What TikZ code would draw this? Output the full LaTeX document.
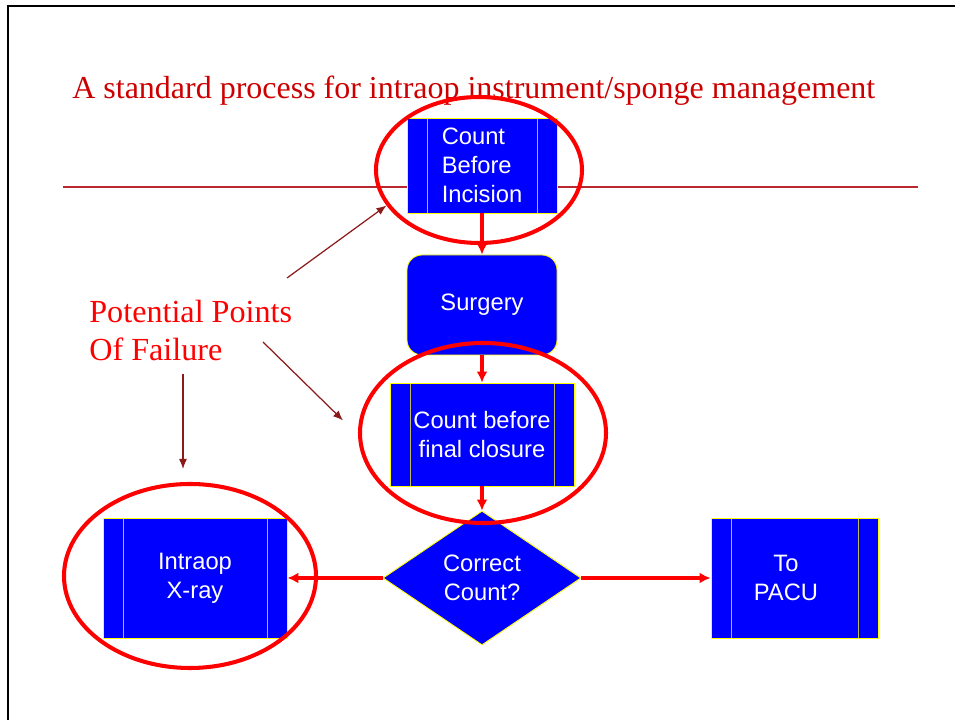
\documentclass[tikz,border=0pt]{standalone}
\usepackage{fontspec}
\setmainfont{Liberation Serif}
\setsansfont{Liberation Sans}
\usetikzlibrary{shapes.geometric, arrows.meta}

\definecolor{boxblue}{HTML}{0000FF}
\definecolor{boxedge}{HTML}{FFFF00}
\definecolor{boxrule}{HTML}{BDBD5A}
\definecolor{flowred}{HTML}{FF0000}
\definecolor{titlered}{HTML}{CC0000}
\definecolor{rulered}{HTML}{B8282E}
\definecolor{pointred}{HTML}{8B1A1A}

\begin{document}
\begin{tikzpicture}[
    boxtext/.style={text=white, font=\sffamily\fontsize{13.5}{16.5}\selectfont, align=center, inner sep=0pt},
    procbox/.style={boxtext, draw=boxedge, fill=boxblue, line width=0.5pt,
        path picture={
            \draw[boxrule, line width=0.5pt] ([xshift=0.4cm]path picture bounding box.north west) -- ([xshift=0.4cm]path picture bounding box.south west);
            \draw[boxrule, line width=0.5pt] ([xshift=-0.4cm]path picture bounding box.north east) -- ([xshift=-0.4cm]path picture bounding box.south east);
        }},
    roundbox/.style={boxtext, draw=boxedge, fill=boxblue, line width=0.5pt, rounded corners=0.3cm},
    decision/.style={boxtext, diamond, draw=boxedge, fill=boxblue, line width=0.5pt, aspect=1.48},
    ring/.style={ellipse, draw=flowred, line width=2.3pt, inner sep=0pt},
    flow/.style={draw=flowred, line width=2pt, -{Latex[length=0.22cm, width=0.22cm]}},
    pointer/.style={draw=pointred, line width=0.7pt, -{Latex[length=0.2cm, width=0.16cm]}},
    headtext/.style={text=titlered, font=\fontsize{18.2}{21.6}\selectfont, inner sep=0pt},
    notetext/.style={text=flowred, font=\fontsize{18.3}{21.6}\selectfont, inner sep=0pt, align=left}
]
\useasboundingbox (0,0) rectangle (19.1,14.4);

\draw[line width=1.1pt] (0.16,0) -- (0.16,14.28) -- (19.1,14.28); % Slide frame
\draw[rulered, line width=0.8pt] (1.26,10.66) -- (18.36,10.66); % Title rule

\node[headtext, anchor=base west] (title) at (1.44,12.42) {A standard process for intraop instrument/sponge management};

% Process steps
\node[procbox, minimum width=3cm, minimum height=1.9cm, align=left] (incision) at (9.64,11.09) {Count\\Before\\Incision};
\node[roundbox, minimum width=3cm, minimum height=2cm] (surgery) at (9.64,8.3) {Surgery};
\node[procbox, minimum width=3.68cm, minimum height=2.06cm] (closure) at (9.64,5.71) {Count before\\final closure};
\node[decision, minimum width=3.96cm, minimum height=2.68cm] (check) at (9.64,2.84) {Correct\\Count?};
\node[procbox, minimum width=3.68cm, minimum height=2.4cm] (xray) at (3.9,2.84) {Intraop\\X-ray};
\node[procbox, minimum width=3.34cm, minimum height=2.4cm,
    label={[boxtext, xshift=-0.17cm]center:To\\PACU}] (pacu) at (15.89,2.84) {};

\draw[flow] (incision) -- (surgery);
\draw[flow] (surgery) -- (closure);
\draw[flow] (closure) -- (check);
\draw[flow] (check) -- (xray);
\draw[flow] (check) -- (pacu);

% Failure points
\node[ring, minimum width=4.12cm, minimum height=2.92cm] (ring1) at (9.58,11.0) {};
\node[ring, minimum width=4.92cm, minimum height=3.6cm] (ring2) at (9.66,5.74) {};
\node[ring, minimum width=5.04cm, minimum height=3.68cm] (ring3) at (3.8,2.88) {};

\node[notetext, anchor=north west] (failure) at (1.78,8.41) {Potential Points\\Of Failure};

\coordinate (p1) at (5.74,8.84);
\coordinate (p2) at (5.26,7.56);
\coordinate (p3) at (3.66,6.92);
\draw[pointer] (p1) -- (ring1.201);
\draw[pointer, shorten >=0.42cm] (p2) -- (ring2.181);
\draw[pointer, shorten >=0.26cm] (p3) -- (p3 |- ring3.north);
\end{tikzpicture}
\end{document}
